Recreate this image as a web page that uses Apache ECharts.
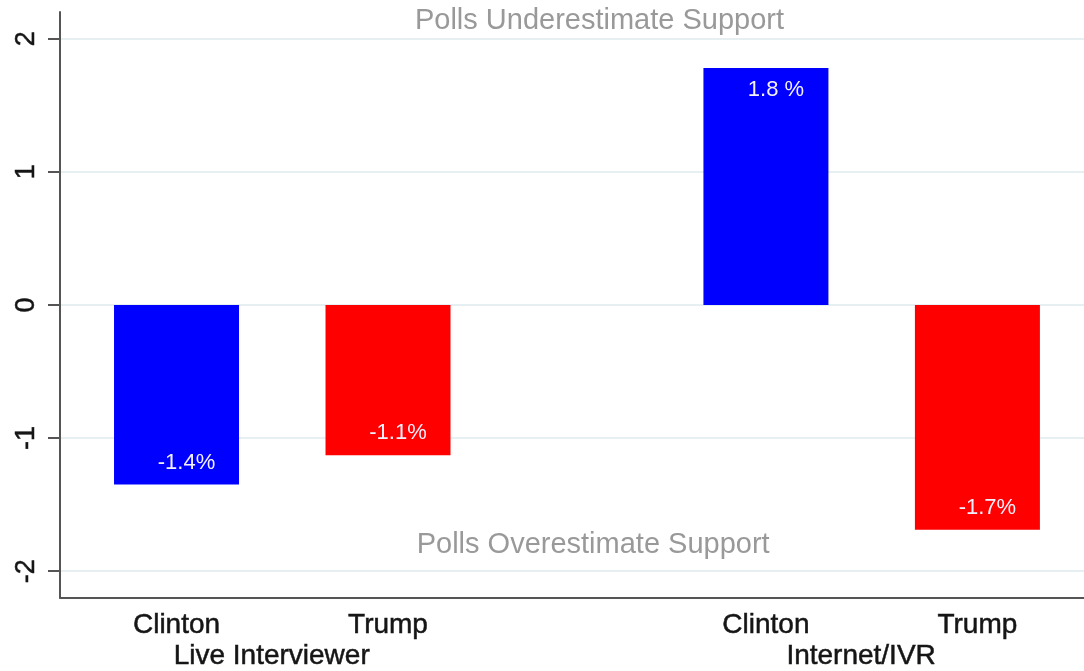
<!DOCTYPE html>
<html>
<head>
<meta charset="utf-8">
<title>Polling error by mode</title>
<script src="https://cdn.jsdelivr.net/npm/echarts@6/dist/echarts.min.js"></script>
<style>
  html, body { margin: 0; padding: 0; background: #ffffff; }
  #chart { width: 1084px; height: 671px; }
</style>
</head>
<body>
<div id="chart"></div>
<script>
// Poll error (percentage points) by survey mode and candidate
const modes = ['Live Interviewer', 'Internet/IVR'];
const candidates = ['Clinton', 'Trump'];
const liveValues = [-1.35, -1.13];
const internetValues = [1.78, -1.69];
const yTicks = [-2, -1, 0, 1, 2];
const noteTop = 'Polls Underestimate Support';
const noteBottom = 'Polls Overestimate Support';

// Layout constants for the x scale (one unit = distance between bars in a group)
const groupStride = 2.787;
const groupLabelShift = 0.45;
const xMin = -0.551;
const xMax = 4.291;
const candidateColors = { Clinton: '#0000ff', Trump: '#ff0000' };

const groups = [liveValues, internetValues];
const barData = [];
const candidateTickPos = [];
const candidateTickName = {};
const modeTickPos = [];
const modeTickName = {};
groups.forEach((vals, g) => {
  const start = g * groupStride;
  vals.forEach((v, c) => {
    const pos = +(start + c).toFixed(3);
    candidateTickPos.push(pos);
    candidateTickName[pos] = candidates[c];
    barData.push({
      value: [pos, v],
      itemStyle: { color: candidateColors[candidates[c]] },
      label: { position: v < 0 ? 'insideBottom' : 'insideTop' }
    });
  });
  const mpos = +(start + groupLabelShift).toFixed(3);
  modeTickPos.push(mpos);
  modeTickName[mpos] = modes[g];
});

const chart = echarts.init(document.getElementById('chart'), null, { renderer: 'canvas' });
const font = '"Liberation Sans", Arial, sans-serif';
const darkText = {
  color: '#151515', fontFamily: font, fontSize: 28,
  textBorderColor: '#151515', textBorderWidth: 0.5
};

chart.setOption({
  animation: false,
  backgroundColor: '#ffffff',
  grid: { left: 60, right: 0, top: 12, bottom: 72, containLabel: false },
  xAxis: [
    {
      type: 'value', min: xMin, max: xMax, position: 'bottom',
      axisLine: { show: true, onZero: false, lineStyle: { color: '#555555', width: 2 } },
      axisTick: { show: false },
      splitLine: { show: false },
      axisLabel: Object.assign({
        customValues: candidateTickPos,
        formatter: v => candidateTickName[+(+v).toFixed(3)] || '',
        margin: 14
      }, darkText)
    },
    {
      type: 'value', min: xMin, max: xMax, position: 'bottom', offset: 31,
      axisLine: { show: false },
      axisTick: { show: false },
      splitLine: { show: false },
      axisLabel: Object.assign({
        customValues: modeTickPos,
        formatter: v => modeTickName[+(+v).toFixed(3)] || '',
        margin: 14
      }, darkText)
    }
  ],
  yAxis: {
    type: 'value', min: -2.2, max: 2.2,
    axisLine: { show: true, onZero: false, lineStyle: { color: '#555555', width: 2 } },
    axisTick: { show: true, customValues: yTicks, length: 12, lineStyle: { color: '#555555', width: 2 } },
    splitLine: { show: true, lineStyle: { color: '#e6eff1', width: 2 } },
    axisLabel: Object.assign({
      customValues: yTicks,
      rotate: 90,
      margin: 20
    }, darkText, { fontSize: 27 })
  },
  series: [{
    type: 'bar',
    xAxisIndex: 0,
    barWidth: 125,
    data: barData,
    label: {
      show: true,
      distance: 11,
      offset: [10, 0],
      color: '#f2f0ff',
      fontFamily: font,
      fontSize: 22,
      formatter: p => {
        const v = p.value[1];
        return v.toFixed(1) + (v > 0 ? ' %' : '%');
      }
    },
    markPoint: {
      symbol: 'circle', symbolSize: 0,
      silent: true,
      label: { show: true, position: 'inside', color: '#999999', fontFamily: font, fontSize: 29 },
      data: [
        { coord: [2.0, 2.13], label: { formatter: noteTop } },
        { coord: [1.97, -1.805], label: { formatter: noteBottom } }
      ]
    }
  }]
});
</script>
</body>
</html>
